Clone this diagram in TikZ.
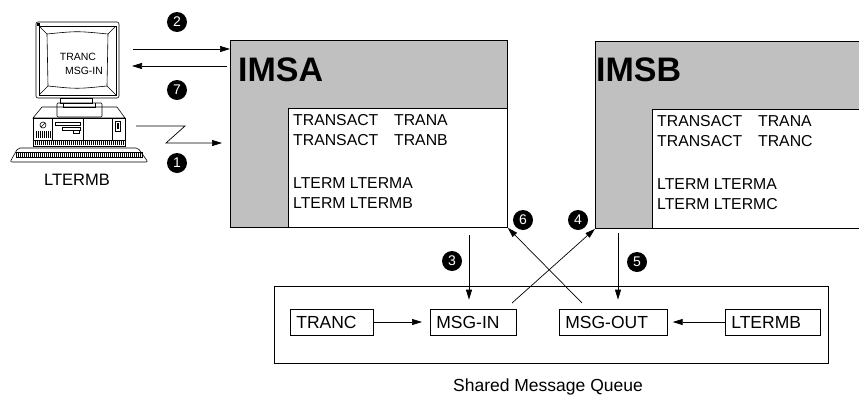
\documentclass[tikz,border=0pt]{standalone}
\usepackage{fontspec}
\setmainfont{Liberation Sans}
\usetikzlibrary{arrows.meta}

\definecolor{imsgray}{HTML}{C0C0C0}
\newcommand{\tabfont}{\fontsize{15.8}{20}\selectfont}
\newcommand{\qfont}{\fontsize{17.5}{20}\selectfont}
\newcommand{\scrfont}{\fontsize{10.5}{12}\selectfont}

\begin{document}
\begin{tikzpicture}[x=1pt, y=-1pt,
  sysbox/.style={draw, line width=0.8pt, fill=imsgray, inner sep=0pt, anchor=north west},
  tabbox/.style={draw, line width=0.8pt, fill=white, inner sep=0pt, anchor=south east,
    minimum width=219pt, minimum height=119pt},
  tabtext/.style={anchor=north west, align=left, inner xsep=5pt, inner ysep=6pt, font=\tabfont},
  sysname/.style={anchor=base west, inner sep=0pt, font=\fontsize{34}{34}\selectfont\bfseries},
  qbox/.style={draw, line width=0.7pt, anchor=west, minimum height=26pt, inner xsep=6pt,
    align=left, font=\qfont},
  arr/.style={-{Triangle[length=10pt,width=6pt]}, line width=0.7pt},
  badge/.style={circle, fill=black, text=white, minimum size=20pt, inner sep=0pt,
    font=\fontsize{14}{14}\selectfont}]
  \useasboundingbox (0,0) rectangle (859,394);
  \clip (0,0) rectangle (859,394);

  % terminal LTERMB: monitor
  \begin{scope}[line width=0.6pt]
    \draw[rounded corners=2pt] (36,22) rectangle (119,98);
    \draw (39,26) rectangle (116,95);
    \draw (47,34) .. controls (77,31) .. (108,34) -- (107,86)
      .. controls (77,89) .. (48,86) -- cycle;
    \draw (39,26) -- (47,34) (116,26) -- (108,34) (116,95) -- (107,86) (39,95) -- (48,86);
    \fill (37,23) rectangle (40,26);
    \node[font=\scrfont, inner sep=0pt] (scr1) at (78,57) {TRANC};
    \node[font=\scrfont, inner sep=0pt] (scr2) at (84,71) {MSG-IN};
    % stand
    \draw (60,98) rectangle (92,103);
    \draw[rounded corners=1pt] (57,103) rectangle (102,117);
    \draw (63,103) -- (63,107) -- (95,107) -- (95,103);
    % system unit
    \draw (42,107) -- (117,107) -- (125,118) -- (33,118) -- cycle;
    \draw (33,118) rectangle (125,146);
    \draw (33,140) -- (125,140);
    \draw (52,118) -- (52,140) (83,118) -- (83,140) (112,118) -- (112,140);
    \draw (43,125) circle (3);
    \draw (41,127) -- (45,123);
    \foreach \x in {36,38,...,50}
      \draw (\x,131) -- (\x,138);
    \draw (55,122) rectangle (80,125);
    \draw (62,127) rectangle (80,130);
    \draw (73,130) rectangle (79,133);
    \draw (115,121) rectangle (120,131);
    \fill (116.5,123) rectangle (118.5,129);
    \foreach \x in {35,37,...,123}
      \draw (\x,141) -- (\x,145);
    % keyboard
    \draw[rounded corners=2pt] (18,148) -- (138,148) -- (148,162) -- (10,162) -- cycle;
    \draw (16,152) rectangle (142,157);
    \foreach \x in {18,20,...,140}
      \draw (\x,152) -- (\x,157);
  \end{scope}
  \node[font=\fontsize{16.5}{18}\selectfont] (lterm) at (77,180) {LTERMB};

  % IMSA
  \node[sysbox, minimum width=277pt, minimum height=187pt] (imsa) at (230,40) {};
  \node[tabbox] (imsatab) at (imsa.south east) {};
  \node[sysname] at (238,81) {IMSA};
  \node[tabtext] at (imsatab.north west)
    {TRANSACT\quad TRANA\\TRANSACT\quad TRANB\\[23pt]LTERM LTERMA\\LTERM LTERMB};

  % IMSB
  \node[sysbox, minimum width=276pt, minimum height=187pt] (imsb) at (595,41) {};
  \node[tabbox] (imsbtab) at (imsb.south east) {};
  \node[sysname] at (596,81) {IMSB};
  \node[tabtext] at (imsbtab.north west)
    {TRANSACT\quad TRANA\\TRANSACT\quad TRANC\\[23pt]LTERM LTERMA\\LTERM LTERMC};

  % shared queue
  \node[draw, line width=0.8pt, minimum width=554pt, minimum height=77pt, inner sep=0pt,
    anchor=north west] (smq) at (274,286) {};
  \node[font=\qfont, anchor=base, inner sep=0pt] (smqlabel) at (548,391) {Shared Message Queue};
  \node[qbox, text width=71pt] (tranc) at (290,322) {TRANC};
  \node[qbox, text width=74pt] (msgin) at (430,322) {MSG-IN};
  \node[qbox, text width=96pt] (msgout) at (559,322) {MSG-OUT};
  \node[qbox, text width=83pt] (ltermb) at (725,322) {LTERMB};
  \draw[arr, shorten >=8pt] (tranc) -- (msgin);
  \draw[arr, shorten >=5pt] (ltermb) -- (msgout);

  % terminal <-> IMSA
  \coordinate (c2) at (133,49);
  \coordinate (c7) at (132,66);
  \coordinate (z1) at (136,126);
  \coordinate (z2) at (166,143);
  \draw[arr] (c2) -- (c2 -| imsa.west);
  \draw[arr, shorten <=3pt] (c7 -| imsa.west) -- (c7);
  \draw[arr, shorten >=8pt] (z1) -- (185,126) -- (z2) -- (z2 -| imsa.west);

  % IMS <-> queue
  \coordinate (a3) at (469,235);
  \coordinate (a5) at (618,233);
  \coordinate (x4) at (512,303);
  \coordinate (x6) at (582,303);
  \draw[arr, shorten >=9pt] (a3) -- (a3 |- msgin.north);
  \draw[arr, shorten >=9pt] (a5) -- (a5 |- msgout.north);
  \draw[arr] (x4) -- (imsb.south west);
  \draw[arr] (x6) -- (imsa.south east);

  % step numbers
  \node[badge] (b1) at (177,163) {1};
  \node[badge] (b2) at (177,22) {2};
  \node[badge] (b3) at (452,261) {3};
  \node[badge] (b4) at (578,220) {4};
  \node[badge] (b5) at (637,262) {5};
  \node[badge] (b6) at (523,220) {6};
  \node[badge] (b7) at (177,90) {7};
\end{tikzpicture}
\end{document}
